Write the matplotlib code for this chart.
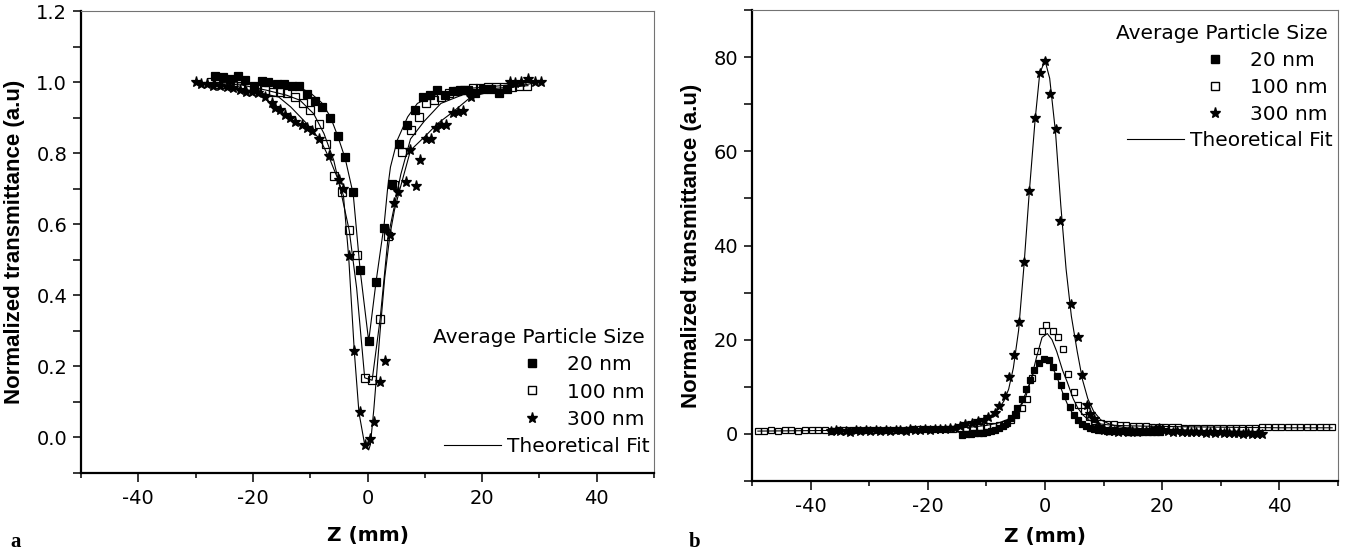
"""Z-scan traces for three particle sizes: closed aperture (a) and open aperture (b)."""

import matplotlib.pyplot as plt
from matplotlib.lines import Line2D
from matplotlib.ticker import MultipleLocator

plt.rcParams["axes.unicode_minus"] = False

SIZE_LABELS = ["20 nm", "100 nm", "300 nm"]
LEGEND_TITLE = "Average Particle Size"
FIT_LABEL = "Theoretical Fit"
X_LABEL = "Z (mm)"
Y_LABEL = "Normalized transmittance (a.u)"

# ---- panel a, closed aperture ----
A20_Z = [-26.7, -25.3, -24.0, -22.6, -21.3, -19.9, -18.5, -17.3, -15.8, -14.5,
         -13.2, -11.9, -10.6, -9.2, -7.9, -6.5, -5.2, -3.9, -2.5, -1.3, 0.2, 1.5,
         2.9, 4.3, 5.5, 6.8, 8.2, 9.6, 10.9, 12.2, 13.5, 14.9, 16.2, 17.5, 18.8,
         20.1, 21.6, 23.0, 24.3]
A20_T = [1.017, 1.013, 1.008, 1.017, 1.006, 0.990, 1.004, 1.001, 0.996, 0.996,
         0.989, 0.989, 0.966, 0.947, 0.930, 0.898, 0.848, 0.790, 0.692, 0.472,
         0.271, 0.437, 0.590, 0.713, 0.827, 0.879, 0.921, 0.957, 0.965, 0.977,
         0.965, 0.974, 0.977, 0.978, 0.970, 0.980, 0.980, 0.970, 0.980]

A100_Z = [-27.4, -26.1, -24.7, -23.4, -22.1, -20.8, -19.4, -17.9, -16.5, -15.3,
          -14.0, -12.6, -11.3, -10.0, -8.5, -7.2, -5.9, -4.4, -3.2, -1.9, -0.5,
          0.8, 2.2, 3.6, 4.6, 6.1, 7.5, 8.9, 10.2, 11.6, 12.9, 14.3, 15.6, 16.9,
          18.4, 19.6, 21.0, 22.5, 23.8, 25.2, 26.5, 27.8]
A100_T = [1.001, 0.996, 0.996, 0.993, 0.989, 0.985, 0.982, 0.977, 0.973, 0.973,
          0.968, 0.959, 0.940, 0.921, 0.883, 0.827, 0.735, 0.691, 0.583, 0.513,
          0.168, 0.161, 0.334, 0.566, 0.710, 0.804, 0.865, 0.902, 0.942, 0.951,
          0.959, 0.968, 0.975, 0.979, 0.982, 0.984, 0.985, 0.985, 0.985, 0.987,
          0.989, 0.989]

A300_Z = [-30.0, -29.0, -28.0, -27.0, -25.8, -24.6, -23.5, -22.3, -21.2, -20.1,
          -19.1, -17.9, -16.7, -16.1, -15.3, -14.4, -13.5, -12.6, -11.5, -10.6,
          -9.7, -8.5, -6.8, -5.0, -4.2, -3.2, -2.3, -1.4, -0.5, 0.4, 1.1, 2.2,
          3.0, 3.9, 4.7, 5.4, 6.7, 7.4, 8.4, 9.2, 10.2, 11.1, 11.9, 12.8, 13.7,
          14.9, 15.7, 16.6, 18.1, 24.8, 25.7, 26.8, 28.0, 29.2, 30.2]
A300_T = [1.001, 0.996, 0.994, 0.990, 0.988, 0.986, 0.983, 0.977, 0.973, 0.973,
          0.968, 0.959, 0.940, 0.926, 0.921, 0.908, 0.898, 0.889, 0.880, 0.870,
          0.861, 0.840, 0.792, 0.725, 0.699, 0.512, 0.243, 0.071, -0.020, -0.004,
          0.043, 0.156, 0.215, 0.569, 0.660, 0.691, 0.718, 0.810, 0.707, 0.782,
          0.841, 0.841, 0.872, 0.879, 0.879, 0.912, 0.916, 0.919, 0.959, 1.001,
          0.998, 1.001, 1.010, 1.001, 1.001]

# fitted curves
A20_FIT_Z = [-27, -22, -18, -15, -11.8, -10, -8, -6.5, -5.2, -3.9, -2.5, -1.3,
             0.2, 1.5, 2.9, 3.5, 4.0, 5.2, 7.0, 8.7, 11.6, 17.5, 27]
A20_FIT_T = [0.999, 0.998, 0.996, 0.993, 0.984, 0.970, 0.942, 0.903, 0.848,
             0.785, 0.685, 0.472, 0.271, 0.440, 0.600, 0.700, 0.761, 0.837,
             0.902, 0.940, 0.963, 0.982, 0.995]
A100_FIT_Z = [-27.5, -22, -17.6, -14.1, -11.8, -9.4, -7.6, -5.9, -4.7, -3.2,
              -1.9, -0.5, 0.8, 2.2, 3.6, 4.9, 5.8, 7.5, 9.9, 12.8, 17.5, 22, 28]
A100_FIT_T = [0.997, 0.992, 0.977, 0.963, 0.949, 0.911, 0.855, 0.780, 0.695,
              0.583, 0.420, 0.168, 0.161, 0.334, 0.566, 0.668, 0.740, 0.840,
              0.890, 0.940, 0.970, 0.982, 0.990]
A300_FIT_Z = [-30, -25, -20, -18.3, -15.5, -13.4, -10.6, -8.2, -6.5, -5.0, -4.2,
              -3.3, -2.3, -1.5, -0.5, 0.2, 0.5, 1.1, 2.2, 3.0, 3.9, 4.7, 5.5,
              7.5, 10.2, 12.2, 14.9, 18.1, 22, 26, 30]
A300_FIT_T = [1.000, 0.990, 0.975, 0.968, 0.958, 0.930, 0.883, 0.836, 0.780,
              0.720, 0.680, 0.510, 0.240, 0.070, -0.020, -0.035, -0.020, 0.080,
              0.300, 0.450, 0.569, 0.640, 0.690, 0.808, 0.850, 0.883, 0.916,
              0.959, 0.975, 0.988, 1.000]

# ---- panel b, open aperture ----
B20_Z = [-14.1, -13.4, -12.7, -12.0, -11.3, -10.6, -9.9, -9.2, -8.5, -7.8, -7.1,
         -6.4, -5.8, -5.2, -4.7, -4.0, -3.3, -2.6, -1.9, -1.0, -0.1, 0.6, 1.3,
         2.0, 2.7, 3.4, 4.2, 4.9, 5.6, 6.3, 7.0, 7.7, 8.4, 9.1, 9.8, 10.5, 11.2,
         11.9, 12.6, 13.3, 14.0, 14.7, 15.4, 16.1, 16.8, 17.5, 18.2, 18.9, 19.6]
B20_T = [-0.2, -0.1, 0.0, 0.1, 0.2, 0.3, 0.5, 0.7, 0.9, 1.3, 1.7, 2.3, 3.3, 4.3,
         5.5, 7.4, 9.5, 11.5, 13.5, 15.0, 15.9, 15.7, 14.3, 12.3, 10.3, 8.0, 5.8,
         4.1, 2.9, 2.1, 1.6, 1.3, 1.0, 0.9, 0.8, 0.7, 0.7, 0.6, 0.6, 0.6, 0.5,
         0.5, 0.5, 0.5, 0.5, 0.5, 0.4, 0.4, 0.4]

B100_Z = [-49.0, -47.9, -46.7, -45.6, -44.4, -43.3, -42.1, -41.0, -39.8, -38.7,
          -37.5, -36.4, -35.2, -34.1, -32.9, -31.8, -30.6, -29.5, -28.3, -27.2,
          -26.0, -24.9, -23.7, -22.6, -21.4, -20.3, -19.1, -18.0, -16.8, -15.7,
          -14.5, -13.4, -12.2, -11.1, -9.9, -8.8, -7.9, -6.9, -5.8, -4.9, -4.0,
          -3.1, -2.2, -1.3, -0.5, 0.25, 1.3, 2.2, 3.1, 3.95, 4.9, 5.7, 6.6, 7.5,
          8.4, 9.5, 10.6, 11.7, 12.8, 13.9, 15.0, 16.1, 17.2, 18.3, 19.4, 20.5,
          21.6, 22.7, 23.8, 24.9, 26.0, 27.1, 28.2, 29.3, 30.4, 31.5, 32.6, 33.7,
          34.8, 35.9, 37.0, 38.1, 39.2, 40.3, 41.4, 42.5, 43.6, 44.7, 45.8, 46.9,
          48.0, 48.9]
B100_T = [0.7, 0.7, 0.8, 0.7, 0.8, 0.8, 0.7, 0.8, 0.8, 0.8, 0.8, 0.7, 0.8, 0.8,
          0.8, 0.9, 0.8, 0.9, 0.9, 0.9, 0.9, 0.9, 0.9, 1.0, 1.0, 1.0, 1.0, 1.0,
          1.1, 1.1, 1.2, 1.3, 1.4, 1.5, 1.6, 1.7, 1.8, 2.2, 2.9, 4.0, 5.4, 7.4,
          11.8, 17.5, 21.9, 23.1, 21.9, 20.5, 18.0, 12.7, 9.0, 6.2, 4.9, 3.6, 2.8,
          2.4, 2.2, 2.0, 1.9, 1.8, 1.7, 1.6, 1.6, 1.5, 1.5, 1.4, 1.4, 1.4, 1.3,
          1.3, 1.3, 1.3, 1.3, 1.3, 1.3, 1.3, 1.3, 1.3, 1.3, 1.3, 1.4, 1.4, 1.4,
          1.4, 1.4, 1.4, 1.4, 1.4, 1.4, 1.5, 1.5, 1.5]

B300_Z = [-36.5, -35.7, -34.9, -34.0, -33.2, -32.3, -31.5, -30.6, -29.8, -28.9,
          -28.1, -27.2, -26.4, -25.5, -24.7, -23.8, -23.0, -22.1, -21.3, -20.4,
          -19.6, -18.7, -17.9, -17.0, -16.2, -15.3, -14.5, -13.6, -12.5, -11.5,
          -10.4, -9.7, -8.6, -7.9, -6.9, -6.15, -5.3, -4.4, -3.6, -2.7, -1.7,
          -0.85, 0.0, 0.85, 1.8, 2.6, 4.5, 5.6, 6.4, 7.2, 7.7, 8.4, 9.3, 10.1,
          10.9, 11.7, 12.5, 13.3, 14.1, 14.9, 15.7, 16.5, 17.3, 18.1, 18.9, 19.4,
          20.2, 21.0, 21.8, 22.6, 23.4, 24.2, 25.0, 25.8, 26.6, 27.4, 28.2, 29.0,
          29.8, 30.6, 31.4, 32.2, 33.0, 33.8, 34.6, 35.4, 36.2, 37.0]
B300_T = [0.6, 0.8, 0.6, 0.7, 0.5, 0.8, 0.6, 0.9, 0.7, 0.8, 0.6, 0.9, 0.7, 0.8,
          0.9, 0.7, 1.0, 0.8, 0.9, 1.0, 0.8, 1.0, 1.1, 1.0, 1.3, 1.2, 1.6, 2.0,
          2.4, 2.8, 2.9, 3.6, 4.5, 6.0, 8.1, 12.0, 16.8, 23.7, 36.5, 51.6, 67.0,
          76.7, 79.2, 72.1, 64.8, 45.3, 27.6, 20.5, 12.6, 6.2, 4.3, 3.1, 1.5, 0.8,
          0.6, 0.6, 0.5, 0.6, 0.5, 0.6, 0.5, 0.6, 0.7, 0.9, 1.1, 1.3, 0.9, 0.6,
          0.5, 0.6, 0.5, 0.4, 0.5, 0.4, 0.5, 0.3, 0.4, 0.3, 0.4, 0.2, 0.3, 0.1,
          0.2, 0.0, 0.1, -0.1, 0.0, -0.1]

B20_FIT_Z = [-14, -12, -10, -8, -7, -6, -5, -4, -3, -2, -1, 0, 0.5, 1, 2, 3, 4,
             5, 6, 7, 8, 10, 12, 15, 20]
B20_FIT_T = [0.0, 0.2, 0.5, 1.0, 1.6, 2.5, 4.0, 6.5, 9.5, 12.8, 15.0, 15.8,
             15.6, 14.8, 12.2, 8.8, 5.8, 3.8, 2.5, 1.8, 1.3, 0.9, 0.7, 0.5, 0.4]
B100_FIT_Z = [-49, -40, -30, -22, -17, -13, -10, -8, -6.5, -5.4, -4.4, -3.3,
              -2.4, -1.4, -0.5, 0.4, 1.2, 2.0, 3.0, 3.8, 4.8, 5.6, 6.5, 7.4, 8.5,
              9.5, 11, 12.3, 15, 19.4, 25, 32, 40, 49]
B100_FIT_T = [0.6, 0.7, 0.8, 0.9, 1.1, 1.4, 1.8, 2.3, 3.0, 3.8, 5.2, 7.8, 11.5,
              16.5, 20.5, 21.3, 20.0, 17.5, 13.5, 11.0, 7.5, 5.5, 4.0, 3.0, 2.4,
              2.1, 1.9, 1.8, 1.7, 1.6, 1.5, 1.4, 1.3, 1.3]
B300_FIT_Z = [-37, -30, -25, -20, -16, -14, -12, -10.4, -9, -8, -7, -6.2, -5.4,
              -4.5, -3.6, -2.7, -1.7, -0.9, 0, 0.8, 1.8, 2.7, 3.6, 4.5, 5.5, 6.4,
              7.3, 8.3, 9.5, 11, 12.3, 14, 17, 20, 25, 30, 37]
B300_FIT_T = [0.6, 0.8, 0.9, 1.1, 1.5, 1.9, 2.4, 3.1, 4.1, 5.2, 7.0, 9.5, 14.0,
              22.0, 35.5, 51.0, 66.5, 76.5, 79.3, 75.5, 64.0, 48.5, 35.0, 25.0,
              17.5, 11.5, 7.5, 4.8, 3.0, 2.1, 1.6, 1.3, 1.1, 1.0, 0.8, 0.6, 0.5]

MARKERS = [
    dict(marker="s", mfc="black", mec="black"),
    dict(marker="s", mfc="none", mec="black"),
    dict(marker="*", mfc="black", mec="black"),
]


def style_axes(ax, xlim, ylim, ymajor, xlabel_y):
    ax.set_xlim(*xlim)
    ax.set_ylim(*ylim)
    ax.xaxis.set_major_locator(MultipleLocator(20))
    ax.xaxis.set_minor_locator(MultipleLocator(10))
    ax.yaxis.set_major_locator(MultipleLocator(ymajor))
    ax.yaxis.set_minor_locator(MultipleLocator(ymajor / 2))
    for side in ("left", "bottom"):
        ax.spines[side].set_linewidth(1.6)
    for side in ("top", "right"):
        ax.spines[side].set_linewidth(0.8)
        ax.spines[side].set_color("0.45")
    ax.tick_params(which="both", direction="out", width=1.1, labelsize=14,
                   top=False, right=False)
    ax.tick_params(axis="x", which="major", length=6.5, pad=5)
    ax.tick_params(axis="x", which="minor", length=3.5)
    ax.tick_params(axis="y", which="major", length=6, pad=4)
    ax.tick_params(axis="y", which="minor", length=5.5)
    ax.set_xlabel(X_LABEL, fontsize=14.5, fontweight="bold")
    ax.xaxis.set_label_coords(0.5, xlabel_y)
    ax.set_ylabel(Y_LABEL, fontsize=16, fontweight="bold",
                  family="Liberation Sans", labelpad=8)


def add_legend(ax, title_anchor, fit_anchor, sizes):
    handles = [Line2D([], [], ls="none", ms=s, **m) for m, s in zip(MARKERS, sizes)]
    leg = ax.legend(handles, SIZE_LABELS, title=LEGEND_TITLE, loc="upper right",
                    bbox_to_anchor=title_anchor, frameon=False, alignment="right",
                    handlelength=1.0, handletextpad=1.25, labelspacing=0.4,
                    borderaxespad=0, borderpad=0, fontsize=14.5,
                    title_fontsize=14.5)
    ax.add_artist(leg)
    fit = Line2D([], [], color="black", lw=0.8)
    ax.legend([fit], [FIT_LABEL], loc="upper right", bbox_to_anchor=fit_anchor,
              frameon=False, handlelength=2.85, handletextpad=0.3,
              borderaxespad=0, borderpad=0, fontsize=14.5)


def plot_panel(ax, series, fits, sizes):
    for fz, ft in fits:
        ax.plot(fz, ft, color="black", lw=0.8, zorder=3)
    for (z, t), m, s in zip(series, MARKERS, sizes):
        ax.plot(z, t, ls="none", ms=s, mew=0.9, zorder=2, **m)


fig = plt.figure(figsize=(13.53, 5.59), dpi=100)
ax_a = fig.add_axes([0.0599, 0.1538, 0.4235, 0.8265])
ax_b = fig.add_axes([0.5558, 0.1395, 0.4331, 0.8426])

plot_panel(ax_a,
           [(A20_Z, A20_T), (A100_Z, A100_T), (A300_Z, A300_T)],
           [(A20_FIT_Z, A20_FIT_T), (A100_FIT_Z, A100_FIT_T),
            (A300_FIT_Z, A300_FIT_T)],
           [5.2, 5.2, 8])
style_axes(ax_a, (-50, 50), (-0.1, 1.2), 0.2, -0.115)
ax_a.yaxis.set_major_formatter(lambda v, pos: f"{v:.1f}")
add_legend(ax_a, (0.984, 0.313), (0.993, 0.078), [5.2, 5.2, 8])

plot_panel(ax_b,
           [(B20_Z, B20_T), (B100_Z, B100_T), (B300_Z, B300_T)],
           [(B20_FIT_Z, B20_FIT_T), (B100_FIT_Z, B100_FIT_T),
            (B300_FIT_Z, B300_FIT_T)],
           [4.5, 4.8, 7])
style_axes(ax_b, (-50, 50), (-10, 90), 20, -0.097)
add_legend(ax_b, (0.983, 0.971), (0.991, 0.743), [5.2, 5.2, 8])

for x, letter in [(0.008, "a"), (0.509, "b")]:
    fig.text(x, 0.022, letter, fontsize=15, fontweight="bold",
             family="Liberation Serif")

fig.savefig("out.png", dpi=100)
